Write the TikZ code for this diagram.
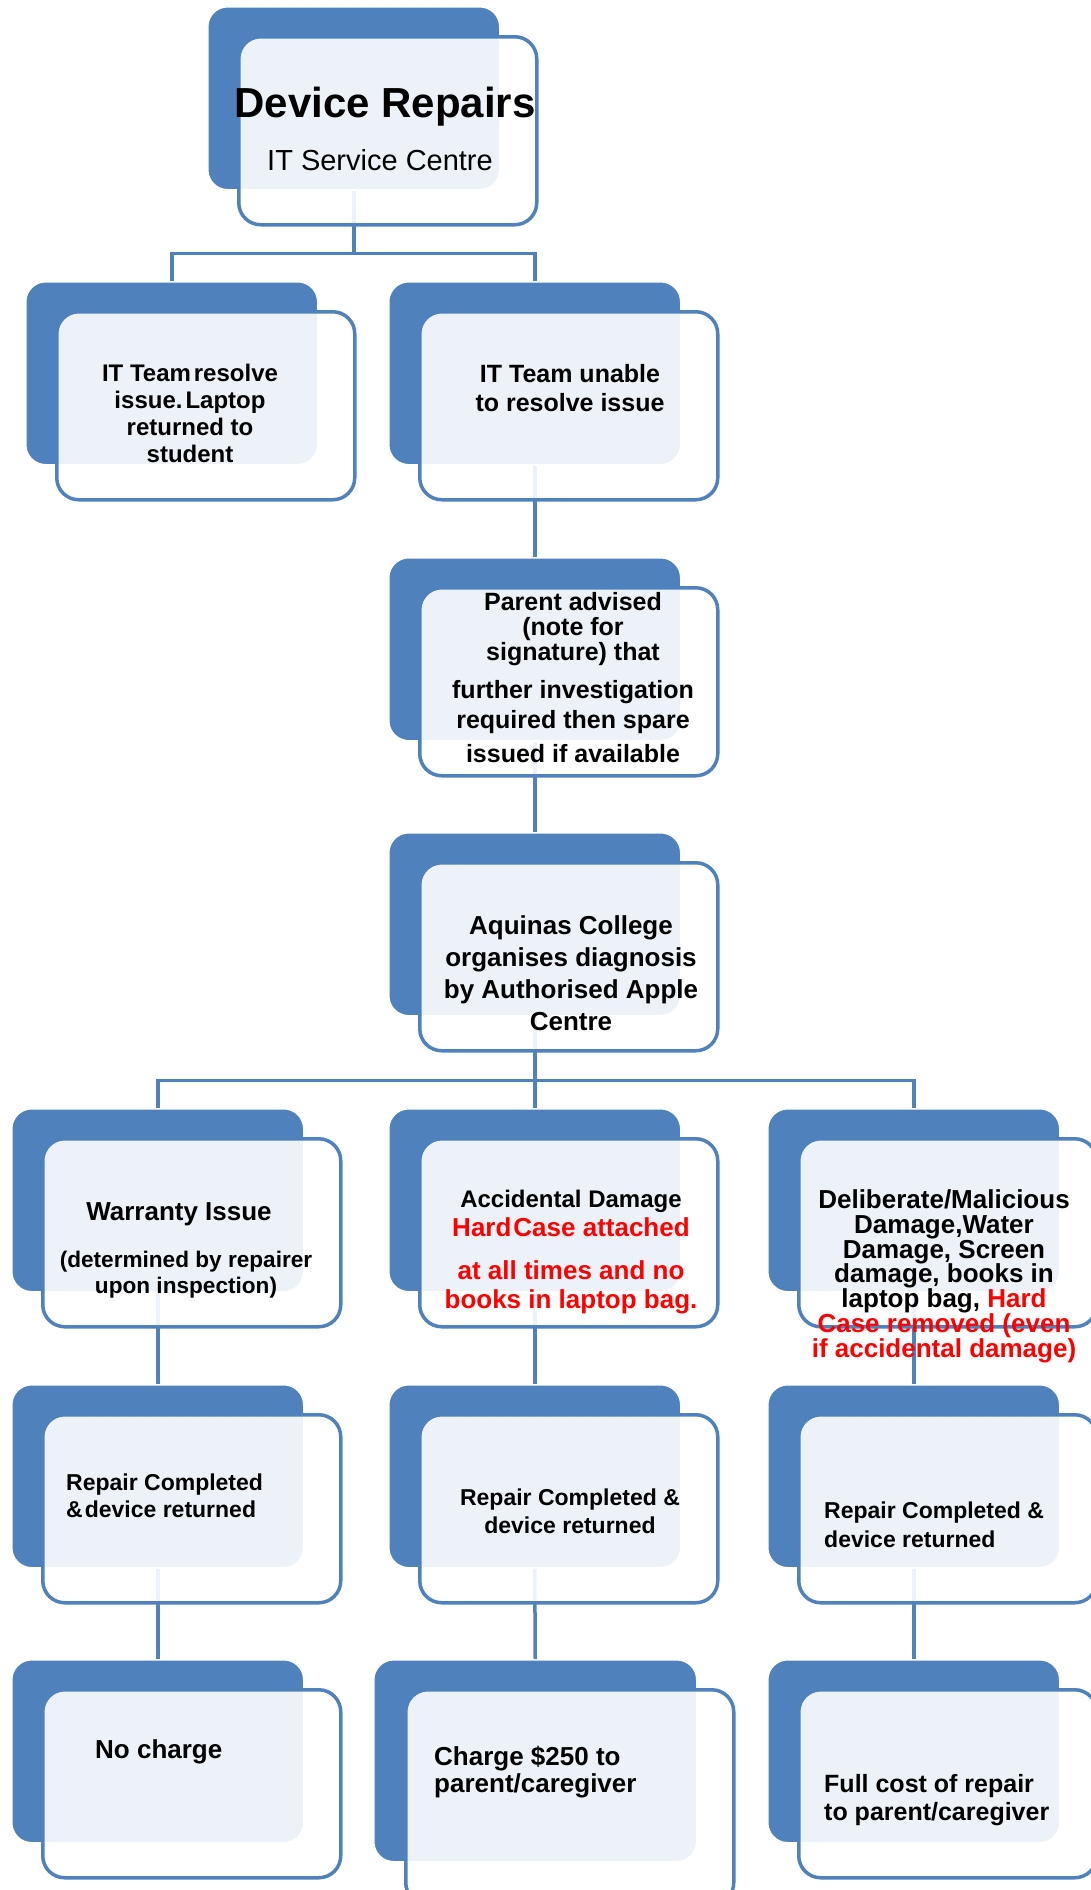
\documentclass[tikz,border=0pt]{standalone}
\usepackage{fontspec}
\setmainfont{Liberation Sans}
\usetikzlibrary{positioning}
\definecolor{repairblue}{HTML}{4F81BD}
\definecolor{repairred}{HTML}{FF0000}
\newcommand{\repfont}[2]{\fontsize{#1}{#2}\selectfont}
\tikzset{
  backbox/.style={draw=white, line width=1.5pt, fill=repairblue, rounded corners=20pt,
    minimum width=292pt, minimum height=183pt, inner sep=0pt, anchor=north west},
  frontbox/.style={draw=repairblue, line width=3.5pt, fill=white, fill opacity=0.9,
    rounded corners=22pt, minimum width=298pt, minimum height=188pt, inner sep=0pt},
  link/.style={draw=repairblue, line width=3.5pt},
  boxtext/.style={inner sep=0pt, align=center, anchor=base},
  lefttext/.style={inner sep=0pt, align=left, anchor=base west},
}
\begin{document}
\begin{tikzpicture}[x=1pt, y=-1pt]
  \useasboundingbox (0,0) rectangle (1090,1890);
  % back boxes
  \node[backbox] (top) at (207,6) {};
  \node[backbox] (resolved) at (25,281) {};
  \node[backbox] (unable) at (388,281) {};
  \node[backbox] (advised) at (388,557) {};
  \node[backbox] (diagnosis) at (388,832) {};
  \node[backbox] (warranty) at (11,1108) {};
  \node[backbox] (accidental) at (388,1108) {};
  \node[backbox] (deliberate) at (767,1108) {};
  \node[backbox] (repairA) at (11,1384) {};
  \node[backbox] (repairB) at (388,1384) {};
  \node[backbox] (repairC) at (767,1384) {};
  \node[backbox] (nocharge) at (11,1659) {};
  \node[backbox, minimum width=323pt, minimum height=202pt] (charge) at (373,1659) {};
  \node[backbox] (fullcost) at (767,1659) {};
  % connectors
  \draw[link] (top.south) -- ++(0,63) -| (resolved.north);
  \draw[link] (top.south) -- ++(0,63) -| (unable.north);
  \draw[link] (unable.south) -- (advised.north);
  \draw[link] (advised.south) -- (diagnosis.north);
  \draw[link] (diagnosis.south) -- ++(0,64) -| (warranty.north);
  \draw[link] (diagnosis.south) -- ++(0,64) -| (accidental.north);
  \draw[link] (diagnosis.south) -- ++(0,64) -| (deliberate.north);
  \draw[link] (warranty.south) -- (repairA.north);
  \draw[link] (accidental.south) -- (repairB.north);
  \draw[link] (deliberate.south) -- (repairC.north);
  \draw[link] (repairA.south) -- (nocharge.north);
  \draw[link] (repairB.south) -- (charge.north);
  \draw[link] (repairC.south) -- (fullcost.north);
  % front boxes
  \node[frontbox, below right=29pt and 30pt of top.north west] (topF) {};
  \node[frontbox, below right=29pt and 30pt of resolved.north west] (resolvedF) {};
  \node[frontbox, below right=29pt and 30pt of unable.north west] (unableF) {};
  \node[frontbox, below right=29pt and 30pt of advised.north west] (advisedF) {};
  \node[frontbox, below right=29pt and 30pt of diagnosis.north west] (diagnosisF) {};
  \node[frontbox, below right=29pt and 30pt of warranty.north west] (warrantyF) {};
  \node[frontbox, below right=29pt and 30pt of accidental.north west] (accidentalF) {};
  \node[frontbox, below right=29pt and 30pt of deliberate.north west] (deliberateF) {};
  \node[frontbox, below right=29pt and 30pt of repairA.north west] (repairAF) {};
  \node[frontbox, below right=29pt and 30pt of repairB.north west] (repairBF) {};
  \node[frontbox, below right=29pt and 30pt of repairC.north west] (repairCF) {};
  \node[frontbox, below right=29pt and 30pt of nocharge.north west] (nochargeF) {};
  \node[frontbox, minimum width=328pt, minimum height=215pt,
    below right=29pt and 31pt of charge.north west] (chargeF) {};
  \node[frontbox, below right=29pt and 30pt of fullcost.north west] (fullcostF) {};
  % texts (multi-line nodes sit on their last baseline)
  \node[boxtext, font=\repfont{42}{48}\bfseries] (topT1) at (385,117) {Device Repairs};
  \node[boxtext, font=\repfont{29}{33}] (topT2) at (380,170) {IT Service Centre};
  \node[boxtext, font=\repfont{24}{26.7}\bfseries] (resolvedT) at (190,462)
    {IT Team\kern3pt resolve\\issue.\kern3pt Laptop\\returned to\\student};
  \node[boxtext, font=\repfont{25}{29}\bfseries] (unableT) at (570,411)
    {IT Team unable\\to resolve issue};
  \node[boxtext, font=\repfont{25}{25}\bfseries] (advisedT) at (573,762)
    {Parent advised\\(note for\\signature) that\\[13pt]further investigation\\[5pt]required then spare\\[9pt]issued if available};
  \node[boxtext, font=\repfont{26}{31.7}\bfseries] (diagnosisT) at (571,1030)
    {Aquinas College\\organises diagnosis\\by Authorised Apple\\Centre};
  \node[boxtext, font=\repfont{26}{30}\bfseries] (warrantyT1) at (179,1220) {Warranty Issue};
  \node[boxtext, font=\repfont{22.6}{26}\bfseries] (warrantyT2) at (186,1293)
    {(determined by repairer\\upon inspection)};
  \node[boxtext, font=\repfont{24}{28}\bfseries] (accidentalT1) at (571,1207) {Accidental Damage};
  \node[boxtext, font=\repfont{26}{29}\bfseries, text=repairred] (accidentalT2) at (571,1308)
    {Hard\kern2pt Case attached\\[14pt]at all times and no\\books in laptop bag.};
  \node[boxtext, font=\repfont{26}{24.7}\bfseries] (deliberateT) at (944,1357)
    {Deliberate/Malicious\\Damage,Water\\Damage, Screen\\damage, books in\\laptop bag, \textcolor{repairred}{Hard}\\
     \textcolor{repairred}{Case removed (even}\\\textcolor{repairred}{if accidental damage)}};
  \node[lefttext, font=\repfont{23}{27}\bfseries] (repairAT) at (66,1517)
    {Repair Completed\\\&\kern2pt device returned};
  \node[boxtext, font=\repfont{23}{28}\bfseries] (repairBT) at (570,1533)
    {Repair Completed \&\\device returned};
  \node[lefttext, font=\repfont{23}{29}\bfseries] (repairCT) at (824,1547)
    {Repair Completed \&\\device returned};
  \node[lefttext, font=\repfont{26}{30}\bfseries] (nochargeT) at (95,1758) {No charge};
  \node[lefttext, font=\repfont{26}{27}\bfseries] (chargeT) at (434,1792)
    {Charge \$250 to\\parent/caregiver};
  \node[lefttext, font=\repfont{25}{28}\bfseries] (fullcostT) at (824,1820)
    {Full cost of repair\\to parent/caregiver};
\end{tikzpicture}
\end{document}
